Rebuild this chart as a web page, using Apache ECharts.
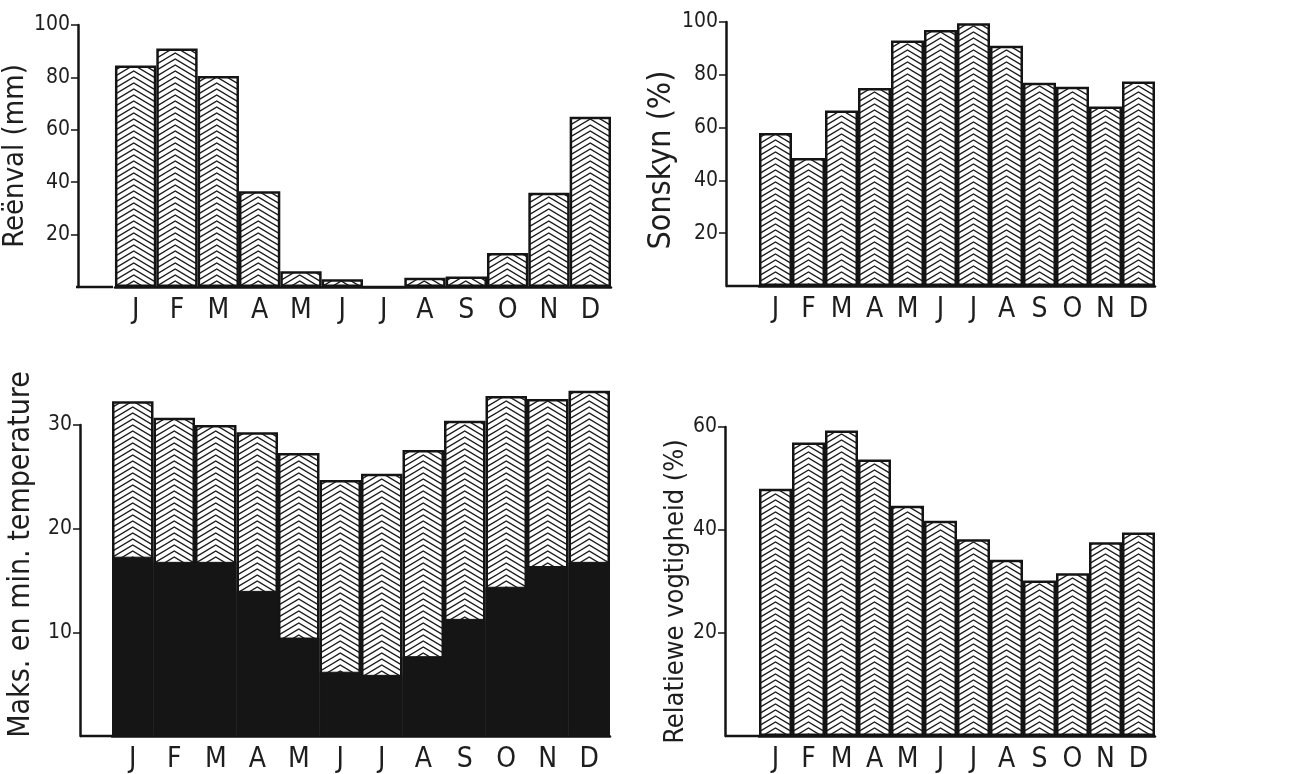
<!DOCTYPE html>
<html>
<head>
<meta charset="utf-8">
<script src="https://cdn.jsdelivr.net/npm/echarts@6/dist/echarts.min.js"></script>
<style>
  html, body { margin: 0; padding: 0; background: #fff; }
  #main { width: 1296px; height: 774px; }
</style>
</head>
<body>
<div id="main"></div>
<script>
// data
var months = ["J", "F", "M", "A", "M", "J", "J", "A", "S", "O", "N", "D"];
var rainfall = [84.5, 91, 80.5, 36.5, 6, 3, 0, 3.5, 4, 13, 36, 65]; // Reënval (mm)
var sunshine = [58, 48.5, 66.5, 75, 93, 97, 99.5, 91, 77, 75.5, 68, 77.5]; // Sonskyn (%)
var tempMax = [32.3, 30.7, 30.0, 29.3, 27.3, 24.7, 25.3, 27.6, 30.4, 32.8, 32.5, 33.3];
var tempMin = [17.3, 16.8, 16.8, 14.0, 9.5, 6.2, 5.9, 7.7, 11.3, 14.4, 16.4, 16.8];
var humidity = [48, 57, 59.3, 53.7, 44.7, 41.8, 38.2, 34.2, 30.2, 31.6, 37.6, 39.5]; // Relatiewe vogtigheid (%)

var FONT = "DejaVu Sans Condensed";
var INK = "#141414";

// panel layout: grid left = first bar edge, axisX = where the y axis line sits
var panels = [
  { left: 113, top: 25, height: 262, cat: 41.5, axisX: 76, max: 100, interval: 20, name: "Reënval (mm)", nameSize: 29, gap: 38, pad: [0, 0, 0, 0] },
  { left: 759, top: 22, height: 264, cat: 33, axisX: 726, max: 100, interval: 20, name: "Sonskyn (%)", nameSize: 32, gap: 37, pad: [0, 12, 0, 0] },
  { left: 112, top: 425, height: 314, cat: 41.5, axisX: 80, max: 30, interval: 10, name: "Maks. en min. temperature", nameSize: 30, gap: 44, pad: [0, 0, 0, 52] },
  { left: 759, top: 427, height: 312, cat: 33, axisX: 725, max: 60, interval: 20, name: "Relatiewe vogtigheid (%)", nameSize: 27, gap: 36, pad: [0, 20, 0, 0] }
];

// chevron hatch, one chevron per bar, apex in the bar centre
function makeHatch(w, left) {
  var reps = Math.round(w) === w ? 1 : 2;
  var tileW = Math.round(w * reps);
  var period = 6;
  var drop = w * 0.3;
  var cv = document.createElement("canvas");
  cv.width = tileW;
  cv.height = period;
  var ctx = cv.getContext("2d");
  ctx.fillStyle = "#fff";
  ctx.fillRect(0, 0, tileW, period);
  ctx.strokeStyle = "#1c1c1c";
  ctx.lineWidth = 1.35;
  var c0 = (left + w / 2) % w;
  for (var c = c0 - w; c <= tileW + w; c += w) {
    for (var yy = -Math.ceil(drop) - period * 2; yy <= period * 2; yy += period) {
      ctx.beginPath();
      ctx.moveTo(c - w / 2, yy + drop);
      ctx.lineTo(c, yy);
      ctx.lineTo(c + w / 2, yy + drop);
      ctx.stroke();
    }
  }
  return { image: cv, repeat: "repeat" };
}

var grids = [], xAxes = [], yAxes = [], series = [];
panels.forEach(function (p, i) {
  grids.push({ left: p.left, top: p.top, width: p.cat * 12, height: p.height });
  xAxes.push({
    type: "category",
    gridIndex: i,
    data: months,
    axisLine: { lineStyle: { color: INK, width: 2.5 } },
    axisTick: { show: false },
    axisLabel: { fontFamily: FONT, fontSize: 28, color: "#1e1e1e", margin: 10 }
  });
  yAxes.push({
    type: "value",
    gridIndex: i,
    min: 0,
    max: p.max,
    interval: p.interval,
    offset: p.left - p.axisX,
    name: p.name,
    nameLocation: "middle",
    nameGap: p.gap,
    nameTextStyle: { fontFamily: FONT, fontSize: p.nameSize, color: "#1e1e1e", padding: p.pad },
    axisLine: { show: true, lineStyle: { color: INK, width: 2.5 } },
    axisTick: { show: true, length: 7, lineStyle: { color: INK, width: 1.5 } },
    axisLabel: {
      showMinLabel: false,
      fontFamily: FONT,
      fontSize: 21,
      color: "#1e1e1e",
      margin: 8,
      verticalAlign: "middle",
      padding: [0, 0, 15, 0]
    },
    splitLine: { show: false }
  });
});

var barStyle = function (p) {
  return { color: makeHatch(p.cat, p.left), borderColor: INK, borderWidth: 2.5 };
};

series.push({ name: "Reënval", type: "bar", xAxisIndex: 0, yAxisIndex: 0, barCategoryGap: "0%", data: rainfall, itemStyle: barStyle(panels[0]) });
series.push({ name: "Sonskyn", type: "bar", xAxisIndex: 1, yAxisIndex: 1, barCategoryGap: "0%", data: sunshine, itemStyle: barStyle(panels[1]) });
series.push({ name: "Maks.", type: "bar", xAxisIndex: 2, yAxisIndex: 2, barCategoryGap: "0%", barGap: "-100%", clip: false, data: tempMax, itemStyle: barStyle(panels[2]) });
series.push({ name: "Min.", type: "bar", xAxisIndex: 2, yAxisIndex: 2, barCategoryGap: "0%", barGap: "-100%", clip: false, data: tempMin, itemStyle: { color: "#151515", borderColor: "#151515", borderWidth: 1 } });
series.push({ name: "Vogtigheid", type: "bar", xAxisIndex: 3, yAxisIndex: 3, barCategoryGap: "0%", data: humidity, itemStyle: barStyle(panels[3]) });

var myChart = echarts.init(document.getElementById("main"));
myChart.setOption({
  animation: false,
  backgroundColor: "#fff",
  grid: grids,
  xAxis: xAxes,
  yAxis: yAxes,
  series: series
});

// baseline runs from the y axis to the first bar
var extras = panels.map(function (p, i) {
  var y0 = myChart.convertToPixel({ yAxisIndex: i }, 0);
  return {
    type: "line",
    shape: { x1: p.axisX, y1: y0, x2: p.left, y2: y0 },
    style: { stroke: INK, lineWidth: 2.5 }
  };
});
myChart.setOption({ graphic: extras });
</script>
</body>
</html>
